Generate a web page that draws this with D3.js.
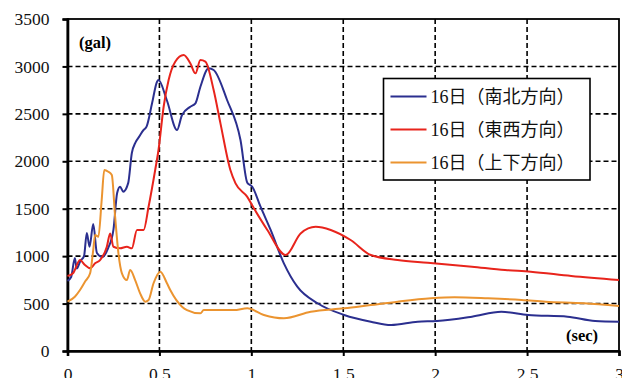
<!DOCTYPE html>
<html>
<head>
<meta charset="utf-8">
<script src="https://cdn.jsdelivr.net/npm/d3@7"></script>
<style>
  body { margin: 0; background: #fff; }
  svg { display: block; }
  .serif { font-family: "Liberation Serif", Tinos, "Times New Roman", "DejaVu Serif", serif; }
</style>
</head>
<body>
<div id="chart"></div>
<script>
// 16日 response values (gal), [sec, gal]
const nsData = [[0,740],[0.02,780],[0.04,980],[0.05,870],[0.07,950],[0.09,1000],[0.105,1244],[0.12,1100],[0.14,1338],[0.16,1033],[0.19,990],[0.22,1080],[0.25,1280],[0.27,1665],[0.286,1732],[0.303,1680],[0.33,1770],[0.35,2087],[0.37,2200],[0.39,2260],[0.414,2330],[0.43,2365],[0.46,2611],[0.487,2839],[0.495,2857],[0.54,2646],[0.596,2330],[0.623,2488],[0.668,2575],[0.696,2611],[0.723,2786],[0.768,2980],[0.795,2962],[0.868,2646],[0.941,2224],[0.978,1774],[1.005,1732],[1.05,1521],[1.105,1276],[1.177,924],[1.25,678],[1.36,503],[1.505,380],[1.65,309],[1.76,274],[1.905,309],[2.01,316],[2.2,362],[2.36,414],[2.505,380],[2.72,362],[2.87,316],[3.0,309]];
const ewData = [[0,790],[0.03,819],[0.068,959],[0.095,906],[0.123,872],[0.15,924],[0.177,959],[0.214,1099],[0.232,1240],[0.25,1099],[0.286,1082],[0.323,1099],[0.35,1082],[0.378,1276],[0.414,1276],[0.441,1521],[0.477,1908],[0.495,2119],[0.523,2575],[0.55,2857],[0.586,3050],[0.632,3120],[0.668,3033],[0.696,2927],[0.723,3067],[0.75,3050],[0.795,2751],[0.832,2400],[0.886,1908],[0.914,1767],[0.977,1627],[1.014,1504],[1.087,1276],[1.187,1012],[1.268,1240],[1.35,1310],[1.432,1276],[1.54,1170],[1.65,1012],[1.796,959],[1.96,931],[2.2,889],[2.38,854],[2.52,836],[2.74,790],[3.0,748]];
const udData = [[0,520],[0.04,572],[0.068,643],[0.095,730],[0.123,819],[0.14,1065],[0.15,1223],[0.168,1205],[0.186,1592],[0.2,1908],[0.222,1890],[0.241,1855],[0.259,1416],[0.277,1030],[0.296,819],[0.323,748],[0.341,854],[0.368,748],[0.395,608],[0.423,520],[0.441,538],[0.468,714],[0.505,836],[0.541,714],[0.559,643],[0.623,467],[0.65,432],[0.723,397],[0.741,432],[0.905,432],[0.978,450],[1.068,380],[1.177,345],[1.323,414],[1.505,450],[1.65,485],[1.796,520],[1.978,555],[2.105,566],[2.287,555],[2.47,538],[2.6,520],[2.81,503],[3.0,474]];

const seriesNames = ['16日（南北方向）', '16日（東西方向）', '16日（上下方向）'];
const xTicks = [0, 0.5, 1, 1.5, 2, 2.5, 3];
const yTicks = [0, 500, 1000, 1500, 2000, 2500, 3000, 3500];

const width = 622, height = 378;
const margin = { left: 67.5, right: 3, top: 19, bottom: 27 };

const svg = d3.select('#chart').append('svg')
  .attr('width', width)
  .attr('height', height);

const x = d3.scaleLinear().domain([0, 3]).range([margin.left, width - margin.right]);
const y = d3.scaleLinear().domain([0, 3500]).range([height - margin.bottom, margin.top]);

// grid
const grid = svg.append('g')
  .attr('stroke', '#000')
  .attr('stroke-width', 1.6)
  .attr('stroke-dasharray', '5,3');
grid.selectAll('.gx').data(xTicks.filter(d => d > 0 && d < 3)).enter()
  .append('line')
  .attr('x1', d => x(d)).attr('x2', d => x(d))
  .attr('y1', y(3500)).attr('y2', y(0));
grid.selectAll('.gy').data(yTicks.filter(d => d > 0 && d < 3500)).enter()
  .append('line')
  .attr('x1', x(0)).attr('x2', x(3))
  .attr('y1', d => y(d)).attr('y2', d => y(d));

// border
svg.append('rect')
  .attr('x', x(0)).attr('y', y(3500))
  .attr('width', x(3) - x(0)).attr('height', y(0) - y(3500))
  .attr('fill', 'none').attr('stroke', '#000').attr('stroke-width', 1.8);

// axes
const yAxis = svg.append('g')
  .attr('transform', `translate(${x(0)},0)`)
  .call(d3.axisLeft(y).tickValues(yTicks).tickSize(5).tickPadding(13).tickFormat(d3.format('d')));
const xAxis = svg.append('g')
  .attr('transform', `translate(0,${y(0)})`)
  .call(d3.axisBottom(x).tickValues(xTicks).tickSize(5).tickPadding(12).tickFormat(d => d));
[yAxis, xAxis].forEach(a => {
  a.attr('font-family', null).attr('font-size', null);
  a.select('.domain').attr('stroke-width', 2.6);
  a.selectAll('.tick line').attr('stroke-width', 2);
  a.selectAll('text')
    .attr('class', 'serif')
    .style('font-size', '17.5px')
    .style('fill', '#111');
});

// lines
const line = d3.line().x(d => x(d[0])).y(d => y(d[1])).curve(d3.curveMonotoneX);
const series = [
  { name: seriesNames[0], data: nsData, color: '#2b2f8f' },
  { name: seriesNames[1], data: ewData, color: '#e8241c' },
  { name: seriesNames[2], data: udData, color: '#eb9430' }
];
svg.append('g').selectAll('path').data(series).enter()
  .append('path')
  .attr('d', d => line(d.data))
  .attr('fill', 'none')
  .attr('stroke', d => d.color)
  .attr('stroke-width', 2);

// unit labels
svg.append('text').attr('class', 'serif').attr('x', 79).attr('y', 48).text('(gal)')
  .style('font-weight', 'bold').style('font-size', '16.5px');
svg.append('text').attr('class', 'serif').attr('x', 566).attr('y', 341).text('(sec)')
  .style('font-weight', 'bold').style('font-size', '16.5px');

// legend
const legend = svg.append('g').attr('transform', 'translate(383.5,78.5)');
legend.append('rect')
  .attr('width', 206.5).attr('height', 101.5)
  .attr('fill', '#fff').attr('stroke', '#000').attr('stroke-width', 1.6);
const items = legend.selectAll('.item').data(series).enter()
  .append('g').attr('transform', (d, i) => `translate(0,${18 + i * 33})`);
items.append('line')
  .attr('x1', 7).attr('x2', 43)
  .attr('stroke', d => d.color).attr('stroke-width', 1.8);
items.append('text')
  .attr('x', 47).attr('y', 6.5)
  .text(d => d.name)
  .style('font-family', '"Liberation Serif", "Noto Sans CJK JP", serif')
  .style('font-size', '18px')
  .style('fill', '#111');
</script>
</body>
</html>
